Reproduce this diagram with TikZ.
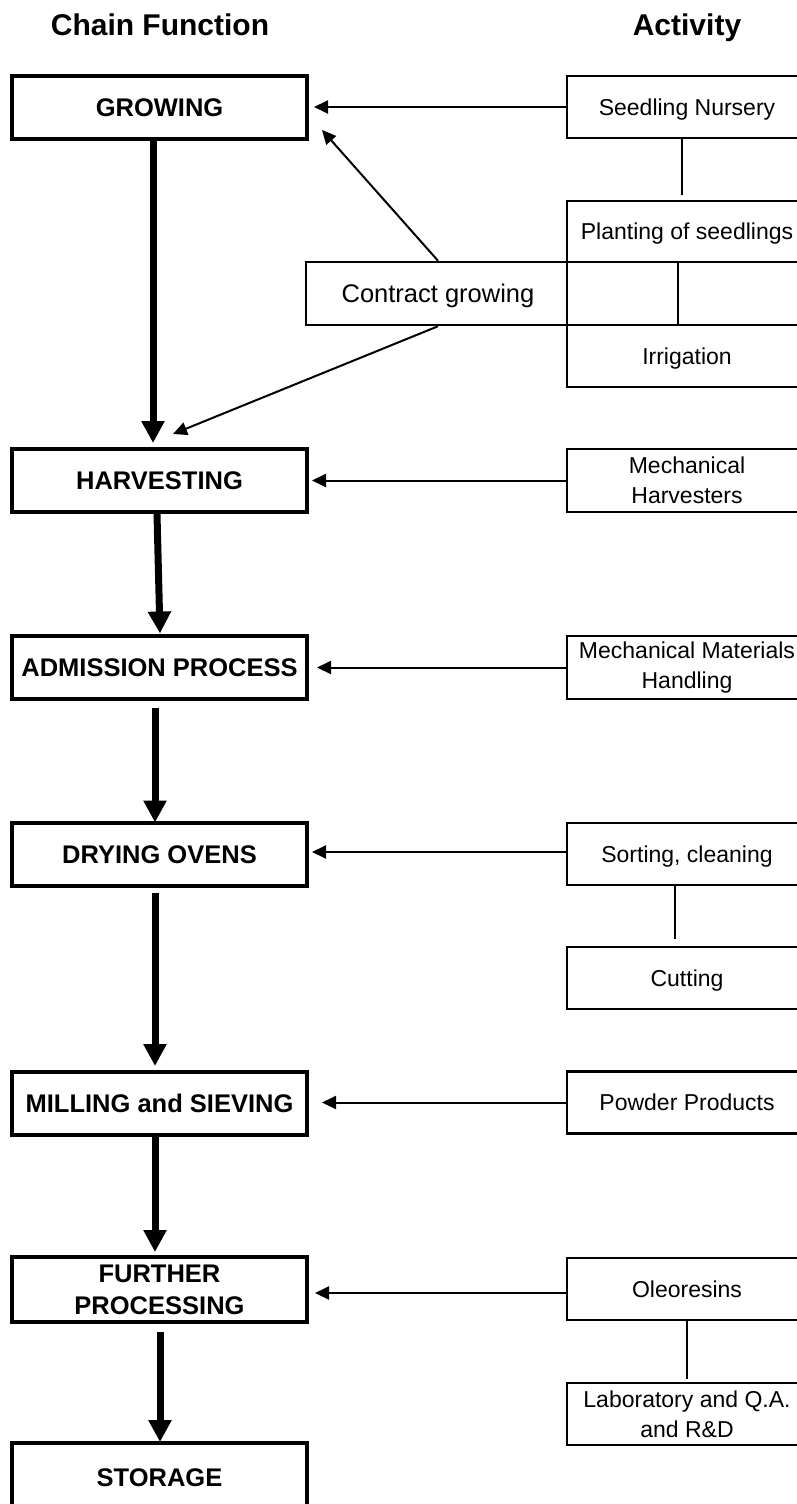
\documentclass[tikz,border=0pt]{standalone}
\usepackage{fontspec}
\setmainfont{Liberation Sans}
\usetikzlibrary{arrows.meta,calc}
\begin{document}
\begin{tikzpicture}[x=1pt,y=-1pt,
  chainbox/.style={draw, line width=4pt, minimum width=295pt, minimum height=63pt, inner sep=0pt, font=\fontsize{25.5}{32}\selectfont\bfseries},
  actbox/.style={draw, line width=2.5pt, minimum width=240pt, minimum height=62pt, inner sep=0pt, font=\fontsize{23}{30}\selectfont},
  capfix/.style={text height=#1, text depth=0pt},
  flow/.style={line width=7pt, -{Triangle[length=22pt,width=22pt]}},
  feed/.style={line width=2pt, -{Triangle[length=14pt,width=13pt]}},
  link/.style={line width=1.3pt},
  header/.style={font=\fontsize{30}{36}\selectfont\bfseries, inner sep=0pt}
]
\useasboundingbox (0,0) rectangle (797,1504);
\clip (0,0) rectangle (797,1504);
\fill[white] (0,0) rectangle (797,1504);

% headers
\node[header, capfix=21.5pt] (hcf) at (160,25) {Chain Function};
\node[header, capfix=21.5pt] (hact) at (687,25) {Activity};

% chain functions
\node[chainbox, capfix=18.3pt] (grow) at (159.5,107.5) {GROWING};
\node[chainbox, capfix=18.3pt] (harv) at (159.5,480.5) {HARVESTING};
\node[chainbox, capfix=18.3pt] (adm) at (159.5,667) {ADMISSION PROCESS};
\node[chainbox, capfix=18.3pt] (dry) at (159.5,854) {DRYING OVENS};
\node[chainbox, capfix=18.3pt] (mill) at (159.5,1103.5) {MILLING and SIEVING};
\node[chainbox, minimum height=65pt, align=center] (fur) at (159.5,1289.5) {FURTHER\\PROCESSING};
\node[chainbox, minimum height=68pt, capfix=18.3pt] (stor) at (159.5,1477) {STORAGE};

% activities
\node[actbox, capfix=16.5pt] (seed) at (687,107) {Seedling Nursery};
\node[actbox, minimum height=61pt, capfix=16.5pt] (plant) at (687,231.5) {Planting of seedlings};
\node[actbox, minimum height=63pt] (midc) at (687,293.5) {};
\node[actbox, capfix=16.5pt] (irr) at (687,356) {Irrigation};
\node[draw, line width=2.5pt, minimum width=501pt, minimum height=63pt, inner sep=0pt] (cgbox) at (556.5,293.5) {};
\node[font=\fontsize{25.5}{30}\selectfont, capfix=18.3pt, inner sep=0pt] (cg) at (438,293.5) {Contract growing};
\node[actbox, minimum height=63pt, align=center] (mh) at (687,480.5) {Mechanical\\Harvesters};
\node[actbox, minimum height=63pt, align=center] (mm) at (687,667.5) {Mechanical Materials\\Handling};
\node[actbox, capfix=16.5pt] (sort) at (687,854) {Sorting, cleaning};
\node[actbox, capfix=16.5pt] (cut) at (687,978) {Cutting};
\node[actbox, capfix=16.5pt] (pow) at (687,1102.5) {Powder Products};
\node[actbox, capfix=16.5pt] (ole) at (687,1289) {Oleoresins};
\node[actbox, align=center] (lab) at (687,1414) {Laboratory and Q.A.\\and R\&D};

% main flow
\draw[flow] ($(grow.south)+(-6.5,0)$) -- ($(harv.north)+(-6.5,-4)$);
\draw[flow] ($(harv.south)+(-2.5,0)$) -- ($(adm.north)+(0.5,0)$);
\draw[flow] ($(adm.south)+(-4.5,7)$) -- ($(dry.north)+(-4.5,2)$);
\draw[flow] ($(dry.south)+(-4.5,5)$) -- ($(mill.north)+(-4.5,-4)$);
\draw[flow] ($(mill.south)+(-4.5,0)$) -- ($(fur.north)+(-4.5,-3)$);
\draw[flow] ($(fur.south)+(0.5,8)$) -- ($(stor.north)+(0.5,1)$);

% feeds
\draw[feed] (seed.west) -- ($(grow.east |- seed.west)+(5,0)$);
\draw[feed] (mh.west) -- ($(harv.east |- mh.west)+(3,0)$);
\draw[feed] (mm.west) -- ($(adm.east |- mm.west)+(8,0)$);
\draw[feed] ($(sort.west)+(0,-2)$) -- ($(dry.east |- sort.west)+(3,-2)$);
\draw[feed] (pow.west) -- ($(mill.east |- pow.west)+(13,0)$);
\draw[feed] ($(ole.west)+(0,4)$) -- ($(fur.east |- ole.west)+(6,4)$);
\draw[feed] (cg |- cgbox.north) -- ($(grow.south east)+(13,-11)$);
\draw[feed] (cg |- cgbox.south) -- ($(harv.north)+(13.5,-13)$);

% links
\draw[link] ($(seed.south)+(-5,0)$) -- ($(plant.north)+(-5,-5)$);
\draw[link] ($(plant.south)+(-9,0)$) -- ($(irr.north)+(-9,0)$);
\draw[link] ($(sort.south)+(-12,0)$) -- ($(cut.north)+(-12,-7)$);
\draw[link] (ole.south) -- ($(lab.north)+(0,-3)$);
\end{tikzpicture}
\end{document}
